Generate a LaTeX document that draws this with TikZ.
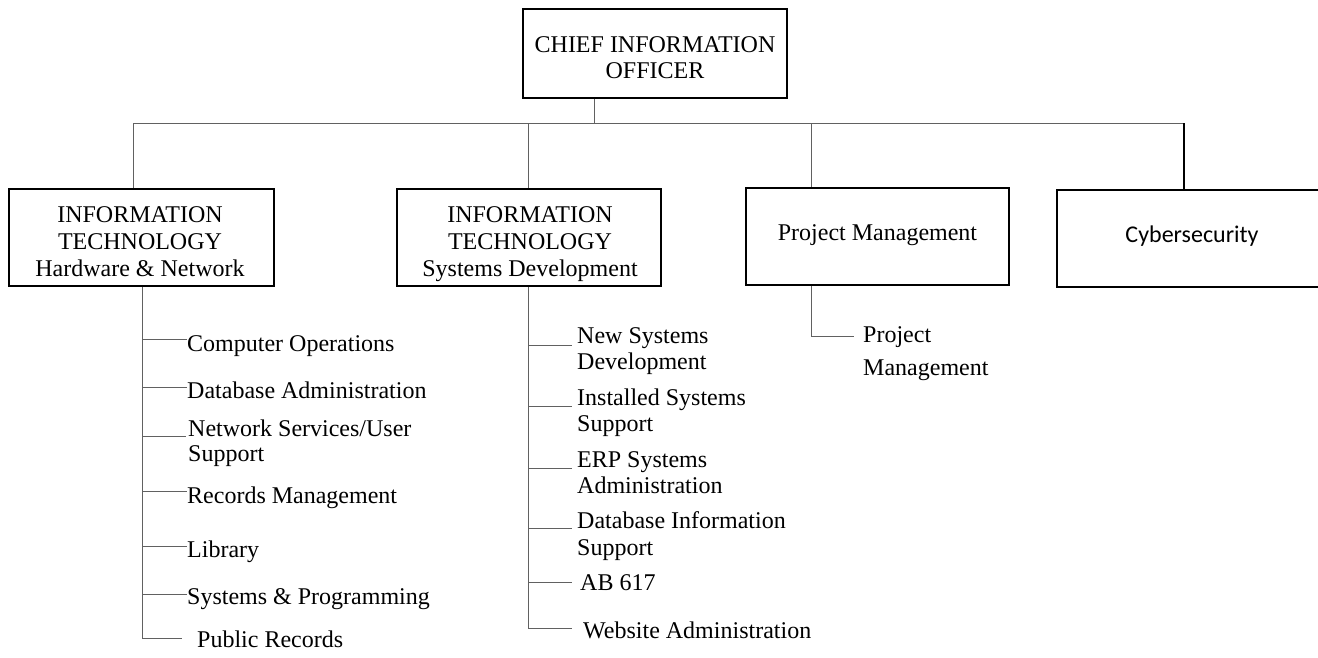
\documentclass[tikz,border=0pt]{standalone}
\usepackage{fontspec}
\setmainfont{Liberation Serif}
\newfontfamily\calibrilike{Carlito}
\begin{document}
\begin{tikzpicture}[x=1pt,y=-1pt,
  box/.style={draw=black, line width=1.8pt, inner sep=0pt},
  title/.style={inner sep=0pt, font=\fontsize{24}{27}\selectfont, align=center, anchor=base},
  item/.style={inner sep=0pt, font=\fontsize{24}{26}\selectfont, align=left, anchor=base west},
  link/.style={draw=black!62, line width=1pt},
  heavylink/.style={draw=black, line width=1.5pt}
]
% page
\fill[white] (0,0) rectangle (1318,657);
\useasboundingbox (0,0) rectangle (1318,657);

% ---- boxes ----
\node[box, minimum width=264pt, minimum height=89pt] (chief) at (655,53.5) {};
\node[box, minimum width=265pt, minimum height=97pt] (hw) at (141.5,237.5) {};
\node[box, minimum width=264pt, minimum height=97pt] (sd) at (529,237.5) {};
\node[box, minimum width=263pt, minimum height=97pt] (pm) at (877.5,236.5) {};
\node[box, minimum width=270pt, minimum height=97pt] (cy) at (1192,238.5) {};

% ---- box titles (placed by the baseline of their last line) ----
\node[title, font=\fontsize{24}{26}\selectfont] (chiefT) at (655,78) {CHIEF INFORMATION\\OFFICER};
\node[title] (hwT) at (140,276) {INFORMATION\\TECHNOLOGY\\Hardware \& Network};
\node[title] (sdT) at (530,276) {INFORMATION\\TECHNOLOGY\\Systems Development};
\node[title] (pmT) at (877.5,240) {Project Management};
\node[title, font=\fontsize{24}{27}\calibrilike] (cyT) at (1192,242) {Cybersecurity};

% ---- top bus ----
\coordinate (busA) at (133,123);
\coordinate (busB) at (528,123);
\coordinate (busC) at (594,123);
\coordinate (busD) at (811,123);
\coordinate (busE) at (1184,123);
\draw[link] (chief.south -| busC) -- (busC);
\draw[link] (busA) -- (busE);
\draw[link] (busA) -- (busA |- hw.north);
\draw[link] (busB) -- (busB |- sd.north);
\draw[link] (busD) -- (busD |- pm.north);
\draw[heavylink] (busE) -- (busE |- cy.north);

% ---- Hardware & Network units ----
\node[item] (c1) at (187,351) {Computer Operations};
\node[item] (c2) at (187,398) {Database Administration};
\node[item, font=\fontsize{24}{25}\selectfont] (c3) at (188,461) {Network Services/User\\Support};
\node[item] (c4) at (187,503) {Records Management};
\node[item] (c5) at (187,557) {Library};
\node[item] (c6) at (187,604) {Systems \& Programming};
\node[item] (c7) at (197,647) {Public Records};

\coordinate (hwEnd) at (142,638);
\draw[link] (hw.south -| hwEnd) -- (hwEnd);
\coordinate (t1) at (142,339);
\coordinate (t2) at (142,387);
\coordinate (t3) at (142,436);
\coordinate (t4) at (142,491);
\coordinate (t5) at (142,546);
\coordinate (t6) at (142,594);
\draw[link] (t1) -- (t1 -| c1.west);
\draw[link] (t2) -- (t2 -| c2.west);
\draw[link] (t3) -- ([xshift=-2pt]t3 -| c3.west);
\draw[link] (t4) -- (t4 -| c4.west);
\draw[link] (t5) -- (t5 -| c5.west);
\draw[link] (t6) -- (t6 -| c6.west);
\draw[link] (hwEnd) -- ([xshift=-15pt]hwEnd -| c7.west);

% ---- Systems Development units ----
\node[item] (m1) at (577,369) {New Systems\\Development};
\node[item] (m2) at (577,431) {Installed Systems\\Support};
\node[item] (m3) at (577,493) {ERP Systems\\Administration};
\node[item, font=\fontsize{24}{27}\selectfont] (m4) at (577,555) {Database Information\\Support};
\node[item] (m5) at (580,590) {AB 617};
\node[item] (m6) at (583,638) {Website Administration};

\coordinate (sdEnd) at (528,628);
\draw[link] (sd.south -| sdEnd) -- (sdEnd);
\coordinate (s1) at (528,345);
\coordinate (s2) at (528,406);
\coordinate (s3) at (528,468);
\coordinate (s4) at (528,528);
\coordinate (s5) at (528,582);
\draw[link] (s1) -- ([xshift=-5pt]s1 -| m1.west);
\draw[link] (s2) -- ([xshift=-5pt]s2 -| m2.west);
\draw[link] (s3) -- ([xshift=-5pt]s3 -| m3.west);
\draw[link] (s4) -- ([xshift=-5pt]s4 -| m4.west);
\draw[link] (s5) -- ([xshift=-8pt]s5 -| m5.west);
\draw[link] (sdEnd) -- ([xshift=-11pt]sdEnd -| m6.west);

% ---- Project Management unit ----
\node[item, font=\fontsize{24}{33}\selectfont] (p1) at (863,375) {Project\\Management};
\coordinate (pmEnd) at (811,336);
\draw[link] (pm.south -| pmEnd) -- (pmEnd) -- ([xshift=-9pt]pmEnd -| p1.west);
\end{tikzpicture}
\end{document}
